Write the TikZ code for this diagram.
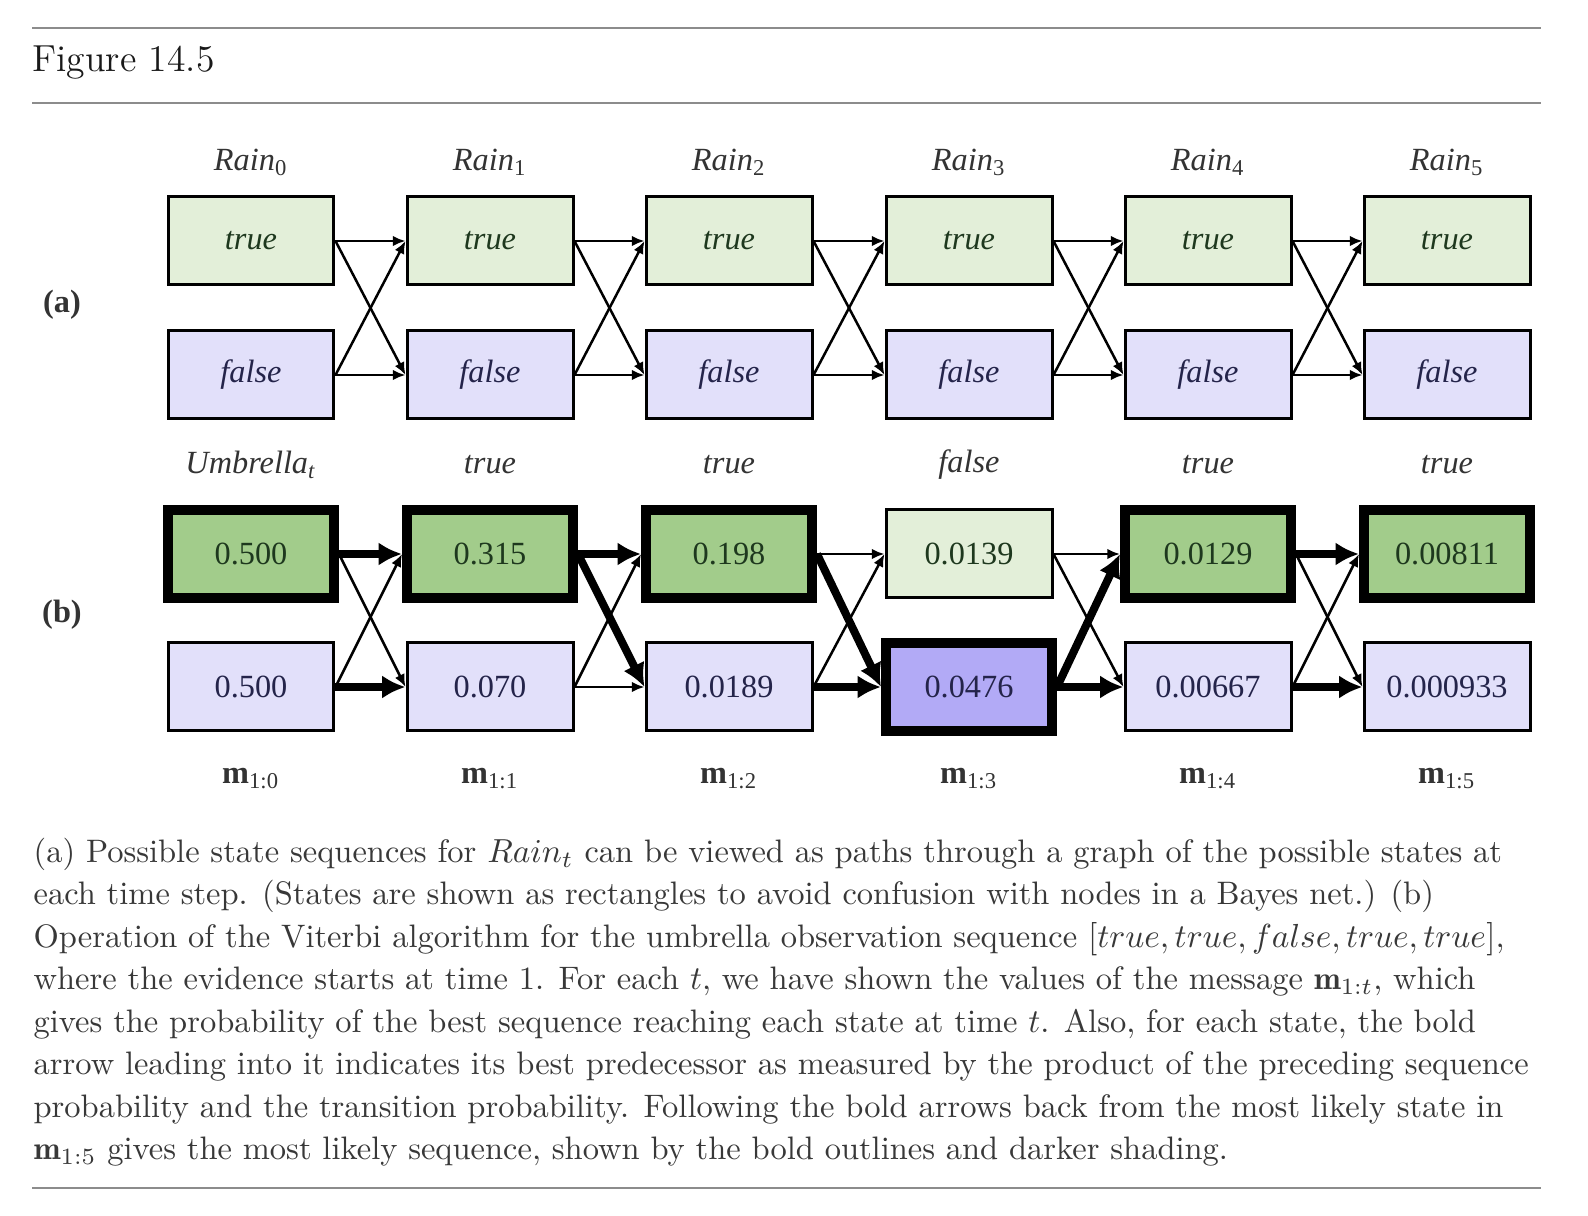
\documentclass[tikz,border=0pt]{standalone}
\usepackage{amsmath}
\usepackage{fontspec}
\usepackage{xcolor}
\usepackage{tikz}
\usetikzlibrary{arrows.meta,positioning}
\newfontfamily\figfont{Liberation Serif}
\definecolor{rain-true}{HTML}{E3EFD9}
\definecolor{rain-false}{HTML}{E2E0FA}
\definecolor{best-green}{HTML}{A2CC8B}
\definecolor{best-purple}{HTML}{B2AAF6}
\definecolor{ink-green}{HTML}{1E381E}
\definecolor{ink-blue}{HTML}{24244A}
\definecolor{caption-gray}{HTML}{383838}
\definecolor{rule-gray}{HTML}{8C8C8C}
\tikzset{
    state/.style={draw=black, line width=0.9pt, minimum width=49.8pt, minimum height=26.4pt,
        inner sep=0pt, font=\figfont\fontsize{9.7}{11}\selectfont},
    state-true/.style={state, fill=rain-true, text=ink-green},
    state-false/.style={state, fill=rain-false, text=ink-blue},
    best-true/.style={state, line width=3pt, fill=best-green, text=ink-green},
    best-false/.style={state, line width=3pt, fill=best-purple, text=ink-blue},
    head/.style={font=\figfont\fontsize{9.7}{11}\selectfont, text=black!80},
    trans/.style={-{Latex[length=3.8pt,width=3.2pt]}, line width=0.75pt},
    best-trans/.style={-{Latex[length=7pt,width=7pt]}, line width=2.4pt},
    rule/.style={rule-gray, line width=0.6pt}
}

\begin{document}
\begin{tikzpicture}[x=0.3pt, y=-0.3pt]
    \useasboundingbox (0,0) rectangle (1588,1216);

    \draw [rule] (32,28) -- (1541,28);
    \draw [rule] (32,103) -- (1541,103);
    \draw [rule] (32,1188) -- (1541,1188);
    \node (title) [anchor=west, inner sep=0pt, text=black!90, font=\fontsize{11.3}{13}\selectfont]
        at (32,63) {Figure 14.5};

    % (a) all possible state sequences
    \node (label-a) [head, font=\figfont\bfseries\fontsize{9.7}{11}\selectfont] at (62,305) {(a)};
    \node (rain0) [head] at (251,162) {\textit{Rain}\textsubscript{0}};
    \node (rain1) [head] at (490,162) {\textit{Rain}\textsubscript{1}};
    \node (rain2) [head] at (729,162) {\textit{Rain}\textsubscript{2}};
    \node (rain3) [head] at (969,162) {\textit{Rain}\textsubscript{3}};
    \node (rain4) [head] at (1208,162) {\textit{Rain}\textsubscript{4}};
    \node (rain5) [head] at (1447,162) {\textit{Rain}\textsubscript{5}};

    \node (a-t0) [state-true] at (251,241) {\textit{true}};
    \node (a-t1) [state-true] at (490,241) {\textit{true}};
    \node (a-t2) [state-true] at (729,241) {\textit{true}};
    \node (a-t3) [state-true] at (969,241) {\textit{true}};
    \node (a-t4) [state-true] at (1208,241) {\textit{true}};
    \node (a-t5) [state-true] at (1447,241) {\textit{true}};
    \node (a-f0) [state-false] at (251,375) {\textit{false}};
    \node (a-f1) [state-false] at (490,375) {\textit{false}};
    \node (a-f2) [state-false] at (729,375) {\textit{false}};
    \node (a-f3) [state-false] at (969,375) {\textit{false}};
    \node (a-f4) [state-false] at (1208,375) {\textit{false}};
    \node (a-f5) [state-false] at (1447,375) {\textit{false}};

    \draw [trans] (a-t0.east) -- (a-t1.west);
    \draw [trans] (a-t0.east) -- (a-f1.west);
    \draw [trans] (a-f0.east) -- (a-t1.west);
    \draw [trans] (a-f0.east) -- (a-f1.west);
    \draw [trans] (a-t1.east) -- (a-t2.west);
    \draw [trans] (a-t1.east) -- (a-f2.west);
    \draw [trans] (a-f1.east) -- (a-t2.west);
    \draw [trans] (a-f1.east) -- (a-f2.west);
    \draw [trans] (a-t2.east) -- (a-t3.west);
    \draw [trans] (a-t2.east) -- (a-f3.west);
    \draw [trans] (a-f2.east) -- (a-t3.west);
    \draw [trans] (a-f2.east) -- (a-f3.west);
    \draw [trans] (a-t3.east) -- (a-t4.west);
    \draw [trans] (a-t3.east) -- (a-f4.west);
    \draw [trans] (a-f3.east) -- (a-t4.west);
    \draw [trans] (a-f3.east) -- (a-f4.west);
    \draw [trans] (a-t4.east) -- (a-t5.west);
    \draw [trans] (a-t4.east) -- (a-f5.west);
    \draw [trans] (a-f4.east) -- (a-t5.west);
    \draw [trans] (a-f4.east) -- (a-f5.west);

    % (b) Viterbi messages
    \node (label-b) [head, font=\figfont\bfseries\fontsize{9.7}{11}\selectfont] at (62,615) {(b)};
    \node (umb0) [head] at (251,465) {\textit{Umbrella}\textsubscript{\textit{t}}};
    \node (umb1) [head] at (490,465) {\textit{true}};
    \node (umb2) [head] at (729,465) {\textit{true}};
    \node (umb3) [head] at (969,465) {\textit{false}};
    \node (umb4) [head] at (1208,465) {\textit{true}};
    \node (umb5) [head] at (1447,465) {\textit{true}};

    \node (b-t0) [best-true] at (251,554) {0.500};
    \node (b-t1) [best-true] at (490,554) {0.315};
    \node (b-t2) [best-true] at (729,554) {0.198};
    \node (b-t3) [state-true] at (969,554) {0.0139};
    \node (b-t4) [best-true] at (1208,554) {0.0129};
    \node (b-t5) [best-true] at (1447,554) {0.00811};
    \node (b-f0) [state-false] at (251,687) {0.500};
    \node (b-f1) [state-false] at (490,687) {0.070};
    \node (b-f2) [state-false] at (729,687) {0.0189};
    \node (b-f3) [best-false] at (969,687) {0.0476};
    \node (b-f4) [state-false] at (1208,687) {0.00667};
    \node (b-f5) [state-false] at (1447,687) {0.000933};

    \draw [trans] (b-t0.east) -- (b-f1.west);
    \draw [trans] (b-f0.east) -- (b-t1.west);
    \draw [trans] (b-f1.east) -- (b-t2.west);
    \draw [trans] (b-f1.east) -- (b-f2.west);
    \draw [trans] (b-t2.east) -- (b-t3.west);
    \draw [trans] (b-f2.east) -- (b-t3.west);
    \draw [trans] (b-t3.east) -- (b-t4.west);
    \draw [trans] (b-t3.east) -- (b-f4.west);
    \draw [trans] (b-t4.east) -- (b-f5.west);
    \draw [trans] (b-f4.east) -- (b-t5.west);

    \draw [best-trans] (b-t0.east) -- (b-t1.west);
    \draw [best-trans] (b-f0.east) -- (b-f1.west);
    \draw [best-trans] (b-t1.east) -- (b-t2.west);
    \draw [best-trans] (b-t1.east) -- (b-f2.west);
    \draw [best-trans] (b-t2.east) -- (b-f3.west);
    \draw [best-trans] (b-f2.east) -- (b-f3.west);
    \draw [best-trans] (b-f3.east) -- (b-t4.west);
    \draw [best-trans] (b-f3.east) -- (b-f4.west);
    \draw [best-trans] (b-t4.east) -- (b-t5.west);
    \draw [best-trans] (b-f4.east) -- (b-f5.west);

    \node (msg0) [head] at (251,779) {\textbf{m}\textsubscript{1:0}};
    \node (msg1) [head] at (490,779) {\textbf{m}\textsubscript{1:1}};
    \node (msg2) [head] at (729,779) {\textbf{m}\textsubscript{1:2}};
    \node (msg3) [head] at (969,779) {\textbf{m}\textsubscript{1:3}};
    \node (msg4) [head] at (1208,779) {\textbf{m}\textsubscript{1:4}};
    \node (msg5) [head] at (1447,779) {\textbf{m}\textsubscript{1:5}};

    \node (caption) [anchor=north west, inner sep=0pt, align=left, text=caption-gray,
        font=\fontsize{9.75}{12.75}\selectfont] at (33,837) {%
        (a) Possible state sequences for $Rain_t$ can be viewed as paths through a graph of the possible states at\\
        each time step. (States are shown as rectangles to avoid confusion with nodes in a Bayes net.) (b)\\
        Operation of the Viterbi algorithm for the umbrella observation sequence $[true, true, false, true, true]$,\\
        where the evidence starts at time 1. For each $t$, we have shown the values of the message $\mathbf{m}_{1:t}$, which\\
        gives the probability of the best sequence reaching each state at time $t$. Also, for each state, the bold\\
        arrow leading into it indicates its best predecessor as measured by the product of the preceding sequence\\
        probability and the transition probability. Following the bold arrows back from the most likely state in\\
        $\mathbf{m}_{1:5}$ gives the most likely sequence, shown by the bold outlines and darker shading.};
\end{tikzpicture}
\end{document}
